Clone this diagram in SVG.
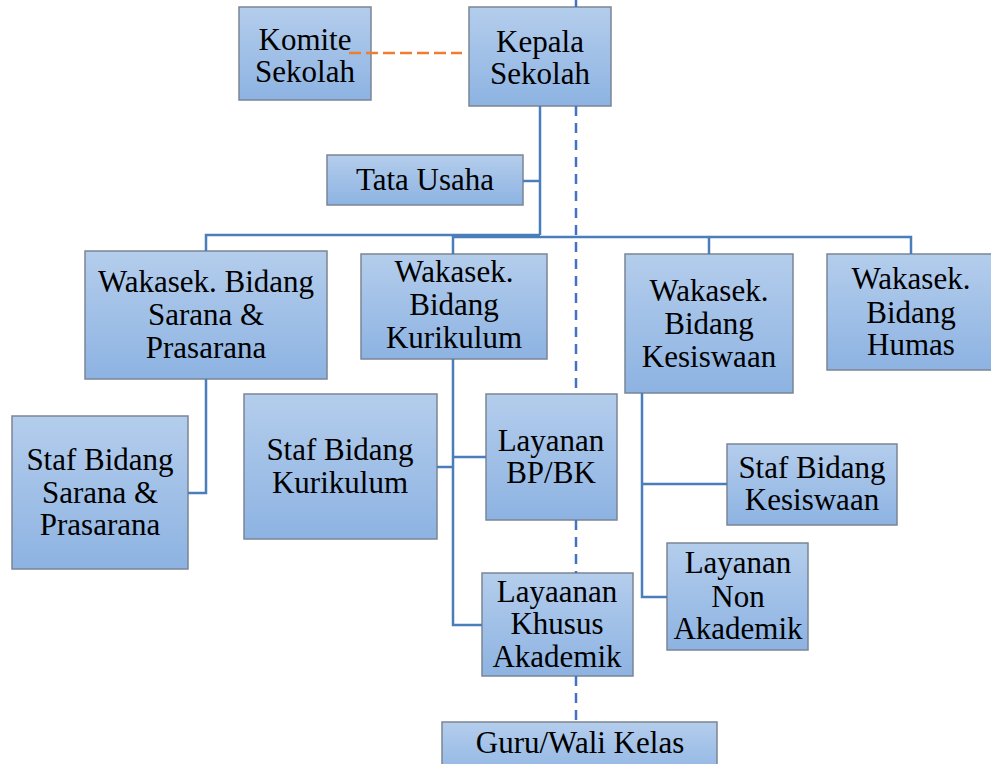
<svg xmlns="http://www.w3.org/2000/svg" width="991" height="764" viewBox="0 0 991 764">
<defs>
<linearGradient id="g" x1="0" y1="0" x2="0" y2="1">
<stop offset="0" stop-color="#b4cdec"/>
<stop offset="1" stop-color="#8db3e2"/>
</linearGradient>
<style>
.box{fill:url(#g);stroke:#7b8595;stroke-width:1.5}
.t{font-family:'Liberation Serif','DejaVu Serif','Noto Serif',serif;font-size:31px;fill:#000;text-anchor:middle}
.c{fill:none;stroke:#4a7ebb;stroke-width:2.5}
.d{fill:none;stroke:#4472c4;stroke-width:2.5;stroke-dasharray:10,7}
.o{fill:none;stroke:#ed7d31;stroke-width:2.5;stroke-dasharray:12,5}
</style>
</defs>
<rect width="991" height="764" fill="#fff"/>
<g id="komite">
<rect class="box" x="239" y="7" width="132" height="93"/>
<text class="t" x="305" y="50">Komite</text>
<text class="t" x="305" y="82">Sekolah</text>
</g>
<g id="kepala">
<rect class="box" x="469" y="7" width="142" height="99"/>
<text class="t" x="540" y="52">Kepala</text>
<text class="t" x="540" y="84">Sekolah</text>
</g>
<g id="tata-usaha">
<rect class="box" x="327" y="155" width="196" height="50"/>
<text class="t" x="425" y="190">Tata Usaha</text>
</g>
<g id="wakasek-sarana">
<rect class="box" x="85" y="251" width="242" height="128"/>
<text class="t" x="206" y="292">Wakasek. Bidang</text>
<text class="t" x="206" y="325">Sarana &amp;</text>
<text class="t" x="206" y="358">Prasarana</text>
</g>
<g id="staf-sarana">
<rect class="box" x="12" y="416" width="176" height="153"/>
<text class="t" x="100" y="470">Staf Bidang</text>
<text class="t" x="100" y="503">Sarana &amp;</text>
<text class="t" x="100" y="535">Prasarana</text>
</g>
<g id="wakasek-kurikulum">
<rect class="box" x="361" y="254" width="186" height="105"/>
<text class="t" x="454" y="282">Wakasek.</text>
<text class="t" x="454" y="315">Bidang</text>
<text class="t" x="454" y="348">Kurikulum</text>
</g>
<g id="staf-kurikulum">
<rect class="box" x="244" y="394" width="193" height="145"/>
<text class="t" x="340" y="460">Staf Bidang</text>
<text class="t" x="340" y="493">Kurikulum</text>
</g>
<g id="layanan-bpbk">
<rect class="box" x="486" y="394" width="131" height="126"/>
<text class="t" x="551" y="451">Layanan</text>
<text class="t" x="551" y="483">BP/BK</text>
</g>
<g id="layanan-khusus">
<rect class="box" x="482" y="573" width="151" height="103"/>
<text class="t" x="557" y="602">Layaanan</text>
<text class="t" x="557" y="634">Khusus</text>
<text class="t" x="557" y="667">Akademik</text>
</g>
<g id="guru">
<rect class="box" x="442" y="722" width="275" height="60"/>
<text class="t" x="580" y="753">Guru/Wali Kelas</text>
</g>
<g id="wakasek-kesiswaan">
<rect class="box" x="625" y="254" width="168" height="139"/>
<text class="t" x="709" y="301">Wakasek.</text>
<text class="t" x="709" y="334">Bidang</text>
<text class="t" x="709" y="367">Kesiswaan</text>
</g>
<g id="wakasek-humas">
<rect class="box" x="827" y="254" width="170" height="116"/>
<text class="t" x="911" y="289">Wakasek.</text>
<text class="t" x="911" y="323">Bidang</text>
<text class="t" x="911" y="355">Humas</text>
</g>
<g id="staf-kesiswaan">
<rect class="box" x="727" y="444" width="170" height="81"/>
<text class="t" x="812" y="478">Staf Bidang</text>
<text class="t" x="812" y="510">Kesiswaan</text>
</g>
<g id="layanan-non">
<rect class="box" x="667" y="543" width="141" height="107"/>
<text class="t" x="738" y="573">Layanan</text>
<text class="t" x="738" y="607">Non</text>
<text class="t" x="738" y="639">Akademik</text>
</g>
<g id="connectors">
<polyline class="d" points="576,0 576,7"/>
<polyline class="d" points="576,106 576,394"/>
<polyline class="d" points="576,520 576,573"/>
<polyline class="d" points="576,676 576,722"/>
<line class="o" x1="349" y1="53" x2="462" y2="53"/>
<polyline class="c" points="540,106 540,235"/>
<polyline class="c" points="523,181 540,181"/>
<polyline class="c" points="206,251 206,235 540,235"/>
<polyline class="c" points="453,254 453,237 911,237 911,254"/>
<polyline class="c" points="709,237 709,254"/>
<polyline class="c" points="206,379 206,493 188,493"/>
<polyline class="c" points="453,359 453,625 482,625"/>
<polyline class="c" points="437,467 453,467"/>
<polyline class="c" points="453,457 486,457"/>
<polyline class="c" points="642,393 642,597 667,597"/>
<polyline class="c" points="642,484 727,484"/>
</g>
</svg>
